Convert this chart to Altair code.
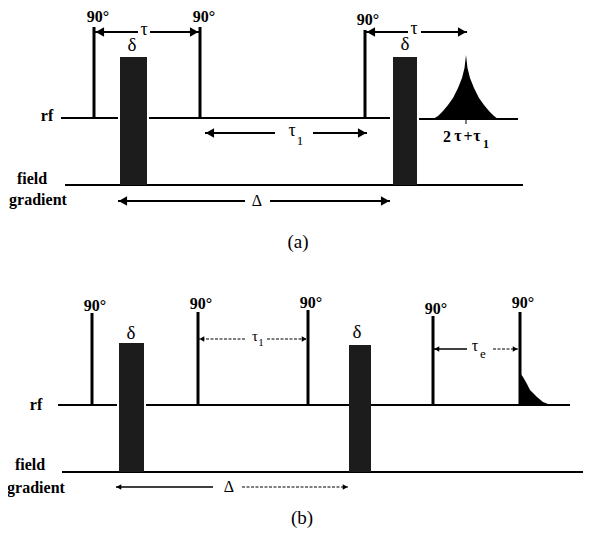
import altair as alt
import pandas as pd

SERIF = "Liberation Serif"

# ---------------- data (diagram coordinates) ----------------
# baselines: rf and field-gradient lines of panels (a) and (b)
base_x0 = [61, 149, 419, 65, 58, 146, 62]
base_x1 = [118, 390, 518, 523, 117, 570, 588]
base_y = [118, 118, 119, 185, 405, 405, 472]

# 90-degree rf pulses
pulse_x = [94, 200, 365, 92, 198, 308, 433, 520]
pulse_bot = [118, 118, 118, 405, 405, 405, 405, 405]
pulse_top = [27, 27, 30, 313, 312, 310, 316, 312]

# gradient pulses (delta blocks)
block_x0 = [120, 393, 119, 349]
block_x1 = [147, 417, 144, 371]
block_top = [57, 57, 343, 345]
block_bot = [185, 185, 472, 472]

# arrows: segment from label side to arrow tip
arr_from = [138, 150, 408, 421, 275, 313, 245, 270, 245, 267, 213, 242, 467, 493]
arr_tip = [95, 199, 366, 467, 205, 367, 118, 390, 199, 307, 116, 348, 434, 518]
arr_y = [32, 32, 32, 32, 133, 133, 201, 201, 339, 339, 487, 487, 349, 349]
arr_kind = ["a", "a", "a", "a", "a", "a", "a", "a",
            "bd", "bd", "bs", "bd", "bs", "bd"]

# spin echo in (a)
echo_x = [433, 438, 443, 448, 453, 458, 462, 464.5, 466, 467.5, 470, 474, 479, 484, 489, 494, 498]
echo_y = [119, 116, 111, 105, 98, 88, 78, 68, 55, 68, 78, 88, 98, 105, 111, 116, 119]
echo_base = 119

# FID in (b)
fid_x = [520, 523, 527, 530, 534, 537, 543, 548, 553]
fid_y = [373, 377, 384, 390, 394, 397, 402, 404, 405]
fid_base = 405

# bold text labels
txt = ["90°", "90°", "90°", "90°", "90°", "90°", "90°", "90°",
       "rf", "field", "gradient", "rf", "field", "gradient",
       "2", "τ", "+", "τ", "1"]
txt_x = [98, 204, 368, 95, 201, 311, 436, 523, 47, 32, 38, 36, 30, 36,
         447, 458, 468, 477, 486]
txt_y = [17, 17, 20, 306, 304, 303, 309, 303, 116, 179, 200, 405, 465, 488,
         137, 136, 137, 136, 144]
txt_size = [16] * 8 + [16] * 6 + [16, 16, 16, 16, 12]

# regular symbols
sym = ["τ", "τ", "δ", "δ", "δ", "δ", "τ", "1", "Δ", "τ", "1", "Δ", "τ", "e",
       "(a)", "(b)"]
sym_x = [144, 414, 132, 405, 131, 357, 292, 300, 257, 255, 261, 229, 475, 483,
         298, 302]
sym_y = [30, 29, 45, 44, 333, 332, 131, 141, 201, 336, 343, 487, 346, 354,
         242, 518]
sym_size = [18, 18, 19, 19, 19, 19, 18, 13, 16, 15, 11, 16, 16, 13, 19, 19]

# ---------------- build tables ----------------
xs = alt.Scale(domain=[8, 583])
ys = alt.Scale(domain=[8, 530], reverse=True)
X = lambda f: alt.X(f, scale=xs, axis=None)
Y = lambda f: alt.Y(f, scale=ys, axis=None)

base_df = pd.DataFrame({"x0": base_x0, "x1": base_x1, "y": base_y})
pulse_df = pd.DataFrame({"x": pulse_x, "y0": pulse_bot, "y1": pulse_top})
block_df = pd.DataFrame({"x0": block_x0, "x1": block_x1, "y0": block_top, "y1": block_bot})

arr_df = pd.DataFrame({"x0": arr_from, "x1": arr_tip, "y": arr_y, "kind": arr_kind})
head_size = {"a": 95, "bd": 32, "bs": 32}
arr_df["size"] = arr_df["kind"].map(head_size)
arr_df["shape"] = ["triangle-left" if t < f else "triangle-right" for f, t in zip(arr_from, arr_tip)]
arr_df["hx"] = [t + (s ** 0.5) * 0.5 * (1 if t < f else -1)
                for f, t, s in zip(arr_df["x0"], arr_df["x1"], arr_df["size"])]

echo_df = pd.DataFrame({"x": echo_x, "y": echo_y, "b": echo_base})
fid_df = pd.DataFrame({"x": fid_x, "y": fid_y, "b": fid_base})

txt_df = pd.DataFrame({"t": txt, "x": txt_x, "y": txt_y, "s": txt_size})
sym_df = pd.DataFrame({"t": sym, "x": sym_x, "y": sym_y, "s": sym_size})

# ---------------- layers ----------------
baselines = alt.Chart(base_df).mark_rule(color="black", strokeWidth=2).encode(
    x=X("x0:Q"), x2="x1:Q", y=Y("y:Q"))

pulses = alt.Chart(pulse_df).mark_rule(color="black", strokeWidth=3).encode(
    x=X("x:Q"), y=Y("y0:Q"), y2="y1:Q")

blocks = alt.Chart(block_df).mark_rect(color="#1c1c1c").encode(
    x=X("x0:Q"), x2="x1:Q", y=Y("y0:Q"), y2="y1:Q")

arrows_a = alt.Chart(arr_df[arr_df.kind == "a"]).mark_rule(color="black", strokeWidth=2).encode(
    x=X("x0:Q"), x2="x1:Q", y=Y("y:Q"))
arrows_bs = alt.Chart(arr_df[arr_df.kind == "bs"]).mark_rule(color="black", strokeWidth=1.3).encode(
    x=X("x0:Q"), x2="x1:Q", y=Y("y:Q"))
arrows_bd = alt.Chart(arr_df[arr_df.kind == "bd"]).mark_rule(
    color="black", strokeWidth=1.1, strokeDash=[3, 1.5]).encode(
    x=X("x0:Q"), x2="x1:Q", y=Y("y:Q"))

heads = alt.Chart(arr_df).mark_point(filled=True, color="black", opacity=1, strokeWidth=0).encode(
    x=X("hx:Q"), y=Y("y:Q"),
    shape=alt.Shape("shape:N", scale=None),
    size=alt.Size("size:Q", scale=None))

echo = alt.Chart(echo_df).mark_area(color="black", opacity=1).encode(
    x=X("x:Q"), y=Y("y:Q"), y2="b:Q")
echo_tick = alt.Chart(pd.DataFrame({"x": [466], "y0": [119], "y1": [124]})).mark_rule(
    color="black", strokeWidth=1).encode(x=X("x:Q"), y=Y("y0:Q"), y2="y1:Q")
fid = alt.Chart(fid_df).mark_area(color="black", opacity=1).encode(
    x=X("x:Q"), y=Y("y:Q"), y2="b:Q")

labels = alt.Chart(txt_df).mark_text(
    font=SERIF, fontWeight="bold", color="black", baseline="middle").encode(
    x=X("x:Q"), y=Y("y:Q"), text="t:N", size=alt.Size("s:Q", scale=None))

symbols = alt.Chart(sym_df).mark_text(
    font=SERIF, fontWeight="normal", color="black", baseline="middle").encode(
    x=X("x:Q"), y=Y("y:Q"), text="t:N", size=alt.Size("s:Q", scale=None))

chart = alt.layer(
    baselines, echo, echo_tick, fid, pulses, blocks,
    arrows_a, arrows_bs, arrows_bd, heads, labels, symbols
).properties(
    width=575, height=522, padding=0, autosize="none", background="white"
).configure_view(stroke=None)

chart.save("out.html", embed_options={"renderer": "svg", "actions": False})
